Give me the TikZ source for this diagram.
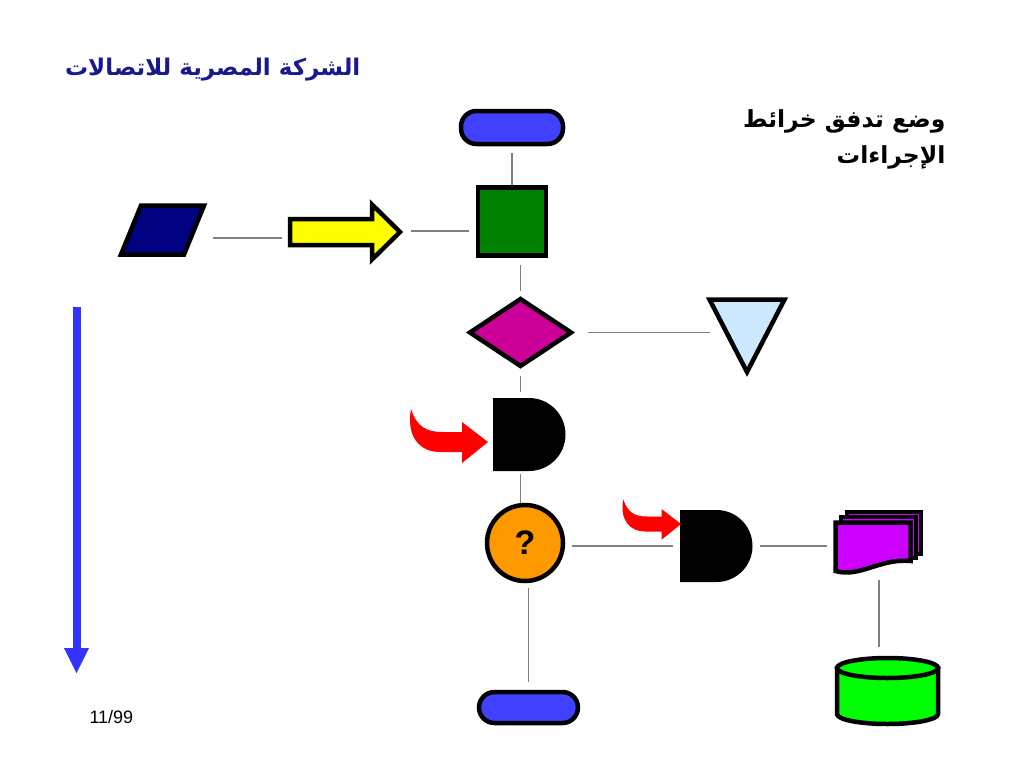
\documentclass[tikz,border=0pt]{standalone}
\usepackage{fontspec}
\setmainfont{Liberation Sans}
\newfontfamily\arabicfont[Script=Arabic]{DejaVu Sans}
\TeXXeTstate=1
\usetikzlibrary{shapes.geometric,backgrounds,calc}
\definecolor{pillblue}{RGB}{64,64,255}
\definecolor{sqgreen}{RGB}{0,128,0}
\definecolor{navyio}{RGB}{0,0,128}
\definecolor{yel}{RGB}{255,255,0}
\definecolor{magen}{RGB}{204,0,153}
\definecolor{ltblue}{RGB}{204,232,255}
\definecolor{orng}{RGB}{255,153,0}
\definecolor{purp}{RGB}{204,0,255}
\definecolor{dbgreen}{RGB}{0,255,0}
\definecolor{arrred}{RGB}{255,0,0}
\definecolor{lblue}{RGB}{51,51,255}
\definecolor{titleblue}{RGB}{25,25,140}
\definecolor{conngray}{RGB}{128,128,128}
\tikzset{
  shp/.style={draw=black, line width=4.5pt, inner sep=0pt},
  anch/.style={inner sep=0pt, outer sep=0pt, draw=none},
  conn/.style={draw=conngray, line width=1.5pt},
  pill/.style={shp, fill=pillblue, rounded corners=15.5pt},
  redarr/.pic={
    \fill[arrred] (-77,-33) .. controls (-71,-14) and (-60,-10) .. (-45,-10)
      -- (-26,-10) -- (-26,-20) -- (0,0) -- (-26,21) -- (-26,10) -- (-48,10)
      .. controls (-68,10) and (-82,-5) .. (-77,-33) -- cycle;
  }
}
\begin{document}
\begin{tikzpicture}[x=1pt,y=-1pt]
\useasboundingbox (0,0) rectangle (1024,768);
% texts
\node[anchor=east, text=titleblue, font=\arabicfont\bfseries\fontsize{23}{27}\selectfont] (title) at (364,70) {\beginR الشركة المصرية للاتصالات\endR};
\node[anchor=east, font=\arabicfont\bfseries\fontsize{23.5}{28}\selectfont] (head1) at (949,121) {\beginR وضع تدفق خرائط\endR};
\node[anchor=east, font=\arabicfont\bfseries\fontsize{23.5}{28}\selectfont] (head2) at (949,157) {\beginR الإجراءات\endR};
\node[anchor=west, font=\fontsize{18}{20}\selectfont] (date) at (86,717) {11/99};
% standard nodes
\node[pill, minimum width=102pt, minimum height=33pt] (start) at (512,127.5) {};
\node[shp, fill=sqgreen, minimum size=68pt] (proc) at (512,221.5) {};
\node[shp, circle, fill=orng, minimum size=76pt, font=\bfseries\fontsize{34}{34}\selectfont] (ask) at (525,543) {?};
\node[pill, minimum width=99pt, minimum height=31pt] (stop) at (528.5,707.5) {};
% anchor nodes for custom shapes
\node[anch, minimum width=85pt, minimum height=49pt] (io) at (163,229.5) {};
\node[anch, minimum width=112pt, minimum height=58pt] (yarrow) at (346,232) {};
\node[anch, minimum width=101pt, minimum height=67pt] (dec) at (520.5,332.5) {};
\node[anch, minimum width=75pt, minimum height=72pt] (tri) at (747,336) {};
\node[anch, minimum width=72pt, minimum height=73pt] (d1) at (529,434.5) {};
\node[anch, minimum width=73pt, minimum height=72pt] (d2) at (716.5,546) {};
\node[anch, minimum width=89pt, minimum height=65pt] (doc) at (878.5,542.5) {};
\node[anch, minimum width=105pt, minimum height=70pt] (db) at (887.5,691) {};
% connectors (behind shapes)
\begin{pgfonlayer}{background}
\fill[white] (0,0) rectangle (1024,768);
\draw[conn, shorten <=7pt] (start.south) -- (proc.north);
\draw[conn, shorten <=7.5pt, shorten >=8pt] ([yshift=-8.5pt]io.east) -- ([yshift=-6pt]yarrow.west);
\draw[conn, shorten <=9pt, shorten >=7pt] ([yshift=1pt]yarrow.east) -- ([yshift=-9.5pt]proc.west);
\draw[conn, shorten <=7.5pt, shorten >=8pt] (proc.south -| dec.north) -- (dec.north);
\draw[conn, shorten <=17pt] (dec.east) -- (tri.west |- dec.east);
\draw[conn, shorten <=10pt, shorten >=6pt] (dec.south) -- (dec.south |- d1.north);
\draw[conn, shorten <=3pt] (d1.south -| dec.south) -- (ask.north -| dec.south);
\draw[conn, shorten <=7pt, shorten >=7pt] ([yshift=-3pt]ask.east) -- (d2.west);
\draw[conn, shorten <=5pt, shorten >=8pt] (ask.south -| stop.north) -- (stop.north);
\draw[conn, shorten <=7pt, shorten >=7pt] (d2.east) -- (d2.east -| doc.west);
\draw[conn, shorten <=5pt, shorten >=9pt] ([xshift=0.5pt]doc.south) -- ([xshift=0.5pt]doc.south |- db.north);
\end{pgfonlayer}
% custom shapes
\draw[shp, fill=navyio, line join=miter] (141,205.5) -- (204,205.5) -- (184,254.5) -- (121,254.5) -- cycle;
\draw[shp, fill=yel, line join=miter] (290,219) -- (372,219) -- (372,204.5) -- (400,232) -- (372,259.5) -- (372,245) -- (290,245) -- cycle;
\draw[shp, fill=magen, line join=miter] (470,332.5) -- (520.5,299) -- (571,332.5) -- (520.5,366) -- cycle;
\draw[shp, fill=ltblue, line join=miter] (709.5,299.5) -- (784.5,299.5) -- (747,372) -- cycle;
\fill[black] (493,398) -- (529,398) arc[start angle=-90, end angle=90, radius=36.5] -- (493,471) -- cycle;
\fill[black] (680,510) -- (716.5,510) arc[start angle=-90, end angle=90, radius=36] -- (680,582) -- cycle;
\pic at (488,442) {redarr};
\pic[scale=0.75] at (681,524) {redarr};
% multi document
\draw[shp, fill=purp] (847,512) rectangle (921,554);
\draw[shp, fill=purp] (841,517) rectangle (916,558);
\draw[shp, fill=purp] (835.5,522.5) -- (910.5,522.5) -- (910.5,561) .. controls (880,558) and (860,578) .. (835.5,571) -- cycle;
% cylinder
\draw[shp, fill=dbgreen] (837,668) -- (837,714) arc[start angle=180, end angle=0, x radius=50.5, y radius=10] -- (938,668) -- cycle;
\draw[shp, fill=dbgreen] (887.5,668) ellipse [x radius=50.5, y radius=10];
% left flow arrow
\fill[lblue] (72.5,307) rectangle (80.5,649);
\fill[lblue] (64,648) -- (89,648) -- (76.5,673) -- cycle;
\end{tikzpicture}
\end{document}
